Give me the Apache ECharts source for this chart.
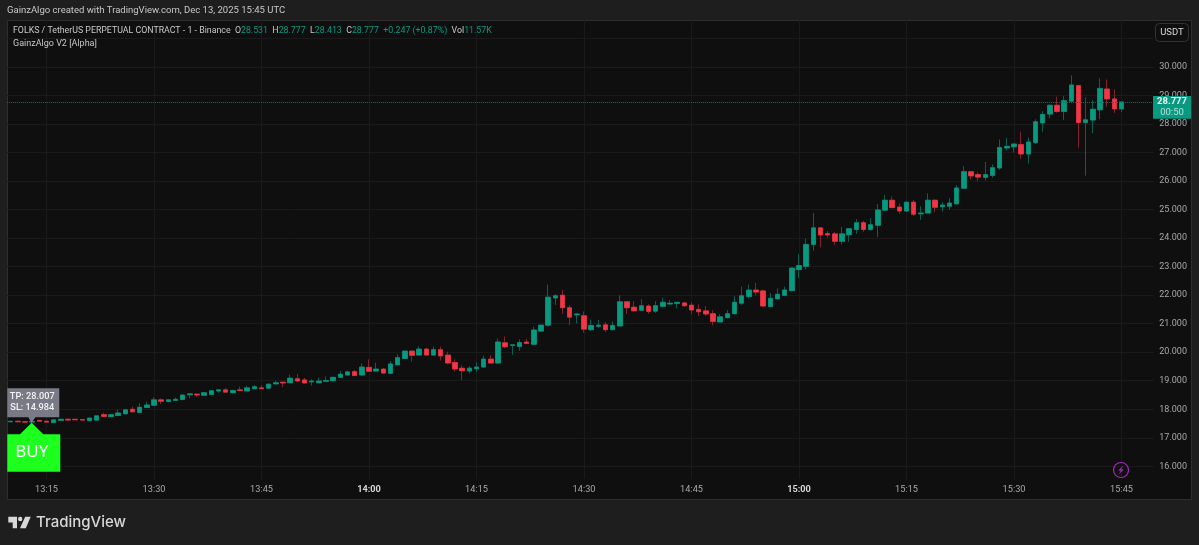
<!DOCTYPE html>
<html>
<head>
<meta charset="utf-8">
<title>FOLKS / TetherUS</title>
<style>
	html, body { margin: 0; padding: 0; background: #1e1e1e; }
	#chart { width: 1199px; height: 545px; }
</style>
<script src="https://cdn.jsdelivr.net/npm/echarts@6/dist/echarts.min.js"></script>
</head>
<body>
<div id="chart"></div>
<script>
// one minute candles, 13:10 to 15:45, the last few categories stay empty
var categories = [
	'13:10','13:11','13:12','13:13','13:14','13:15','13:16','13:17','13:18','13:19','13:20','13:21','13:22','13:23','13:24','13:25','13:26','13:27','13:28','13:29',
	'13:30','13:31','13:32','13:33','13:34','13:35','13:36','13:37','13:38','13:39','13:40','13:41','13:42','13:43','13:44','13:45','13:46','13:47','13:48','13:49',
	'13:50','13:51','13:52','13:53','13:54','13:55','13:56','13:57','13:58','13:59','14:00','14:01','14:02','14:03','14:04','14:05','14:06','14:07','14:08','14:09',
	'14:10','14:11','14:12','14:13','14:14','14:15','14:16','14:17','14:18','14:19','14:20','14:21','14:22','14:23','14:24','14:25','14:26','14:27','14:28','14:29',
	'14:30','14:31','14:32','14:33','14:34','14:35','14:36','14:37','14:38','14:39','14:40','14:41','14:42','14:43','14:44','14:45','14:46','14:47','14:48','14:49',
	'14:50','14:51','14:52','14:53','14:54','14:55','14:56','14:57','14:58','14:59','15:00','15:01','15:02','15:03','15:04','15:05','15:06','15:07','15:08','15:09',
	'15:10','15:11','15:12','15:13','15:14','15:15','15:16','15:17','15:18','15:19','15:20','15:21','15:22','15:23','15:24','15:25','15:26','15:27','15:28','15:29',
	'15:30','15:31','15:32','15:33','15:34','15:35','15:36','15:37','15:38','15:39','15:40','15:41','15:42','15:43','15:44','15:45','15:46','15:47','15:48','15:49'
];
var opens = [
	17.56,17.58,17.56,17.55,17.61,17.58,17.53,17.61,17.65,17.65,17.64,17.6,17.62,17.81,17.74,17.78,17.84,18.0,17.89,18.06,
	18.14,18.33,18.27,18.31,18.34,18.51,18.53,18.49,18.52,18.64,18.68,18.58,18.68,18.64,18.72,18.75,18.74,18.89,18.95,18.93,
	19.07,19.03,18.96,18.93,18.98,19.0,19.12,19.2,19.32,19.2,19.47,19.34,19.41,19.26,19.56,19.78,20.04,19.9,20.11,19.9,
	20.09,19.9,19.64,19.44,19.34,19.42,19.48,19.76,19.62,20.33,20.24,20.2,20.36,20.28,20.74,20.95,21.9,22.0,21.56,21.31,
	21.28,20.79,20.91,20.96,20.79,20.92,21.77,21.58,21.47,21.62,21.44,21.61,21.69,21.71,21.73,21.65,21.5,21.45,21.35,21.06,
	21.21,21.35,21.72,21.95,22.18,22.15,21.6,21.87,21.99,22.16,22.9,23.01,23.78,24.36,24.16,24.15,23.89,24.12,24.3,24.54,
	24.3,24.45,24.98,25.33,25.09,24.95,25.26,24.85,24.88,25.33,25.1,25.12,25.2,25.75,26.33,26.23,26.13,26.2,26.46,27.16,
	27.2,27.28,26.95,27.35,28.04,28.35,28.66,28.44,28.8,29.35,28.05,28.14,28.5,29.23,28.88,28.531
];
var closes = [
	17.58,17.56,17.55,17.57,17.58,17.55,17.63,17.65,17.62,17.63,17.62,17.69,17.77,17.75,17.81,17.87,17.98,17.91,18.07,18.15,
	18.33,18.28,18.33,18.35,18.5,18.54,18.5,18.58,18.65,18.68,18.6,18.66,18.66,18.75,18.79,18.72,18.88,18.93,18.92,19.09,
	18.99,18.92,18.99,18.99,19.01,19.12,19.23,19.31,19.18,19.48,19.33,19.41,19.27,19.59,19.81,20.04,19.89,20.11,19.9,20.09,
	19.87,19.62,19.41,19.35,19.44,19.48,19.76,19.62,20.36,20.19,20.26,20.34,20.31,20.78,20.95,21.93,21.98,21.56,21.23,21.34,
	20.81,20.94,20.95,20.79,20.94,21.77,21.56,21.45,21.63,21.43,21.63,21.75,21.72,21.75,21.63,21.48,21.42,21.34,21.08,21.24,
	21.35,21.75,21.98,22.18,22.11,21.62,21.89,22.03,22.18,22.95,23.04,23.78,24.36,24.11,24.11,23.89,24.15,24.33,24.54,24.3,
	24.47,24.99,25.33,25.07,24.95,25.26,24.84,24.88,25.33,25.08,25.16,25.23,25.76,26.33,26.18,26.14,26.23,26.47,27.18,27.22,
	27.3,26.95,27.37,28.08,28.34,28.66,28.44,28.82,29.37,28.05,28.15,28.52,29.25,28.88,28.53,28.777
];
var lows = [
	17.55,17.55,17.53,17.53,17.57,17.54,17.52,17.6,17.61,17.62,17.61,17.59,17.62,17.74,17.73,17.77,17.83,17.9,17.88,18.05,
	18.13,18.18,18.26,18.3,18.33,18.38,18.44,18.48,18.51,18.58,18.59,18.56,18.65,18.63,18.71,18.71,18.71,18.88,18.77,18.92,
	18.97,18.91,18.83,18.92,18.97,18.99,19.11,19.19,19.17,19.18,19.32,19.33,19.26,19.25,19.55,19.78,19.67,19.89,19.88,19.89,
	19.71,19.58,19.33,19.02,19.26,19.3,19.47,19.61,19.61,20.14,19.91,20.05,20.3,20.27,20.71,20.89,21.66,21.35,20.95,21.01,
	20.68,20.75,20.86,20.71,20.77,20.9,21.34,21.43,21.45,21.35,21.38,21.56,21.68,21.54,21.59,21.33,21.27,21.28,20.94,21.05,
	21.19,21.33,21.66,21.88,21.99,21.6,21.58,21.85,21.97,22.14,22.6,22.9,23.56,23.68,24.01,23.76,23.78,23.87,24.15,24.22,
	24.26,24.04,24.95,25.05,24.85,24.93,24.78,24.64,24.87,24.91,24.93,24.99,25.18,25.72,26.06,26.0,26.02,26.12,26.39,27.07,
	27.0,26.78,26.61,27.3,27.73,28.2,28.4,28.14,28.73,27.17,26.19,27.68,28.17,28.61,28.39,28.413
];
var highs = [
	17.59,17.59,17.58,17.6,17.63,17.6,17.64,17.66,17.67,17.66,17.66,17.71,17.77,17.88,17.82,17.98,18.0,18.09,18.21,18.27,
	18.42,18.38,18.36,18.41,18.51,18.54,18.55,18.6,18.66,18.68,18.74,18.68,18.79,18.82,18.85,18.85,18.9,19.0,18.95,19.21,
	19.24,19.1,19.05,19.11,19.15,19.13,19.34,19.35,19.38,19.61,19.75,19.63,19.44,19.69,19.93,20.05,20.06,20.21,20.15,20.2,
	20.19,20.02,19.75,19.54,19.51,19.65,19.88,19.9,20.48,20.55,20.28,20.45,20.47,20.89,20.97,22.37,22.04,22.18,21.65,21.38,
	21.43,21.15,21.13,21.06,21.08,22.0,21.79,21.79,21.86,21.68,21.79,21.91,21.83,21.76,21.76,21.75,21.68,21.62,21.47,21.33,
	21.48,21.98,22.3,22.37,22.43,22.2,22.07,22.24,22.3,22.97,23.44,23.98,24.88,24.38,24.25,24.22,24.4,24.35,24.67,24.61,
	24.71,25.2,25.51,25.46,25.21,25.28,25.34,25.12,25.57,25.36,25.27,25.4,25.86,26.53,26.35,26.3,26.67,26.59,27.46,27.51,
	27.31,27.73,27.53,28.17,28.45,28.68,28.96,28.98,29.71,29.37,28.94,28.84,29.6,29.56,29.22,28.777
];
var priceTicks = [16, 17, 18, 19, 20, 21, 22, 23, 24, 25, 26, 27, 28, 29, 30, 31];
var priceLabels = [16, 17, 18, 19, 20, 21, 22, 23, 24, 25, 26, 27, 28, 29, 30];
var lastPrice = 28.777;
var buyTime = '13:13';
var buyPrice = 17.53;

var upColor = '#089981', downColor = '#f23645';
var upWick = '#0a5f50', downWick = '#85212c';
var textColor = '#a8a8a8';
var legendColor = '#c8c8c8';
var font = 'Roboto, "Noto Sans", sans-serif';

var wickData = [], bodyData = [];
for (var i = 0; i < opens.length; i++) {
	wickData.push([opens[i], closes[i], lows[i], highs[i]]);
	// drawn on top so the bodies keep the bright colour and only the wicks look dim
	bodyData.push([opens[i], closes[i], Math.min(opens[i], closes[i]), Math.max(opens[i], closes[i])]);
}

function isQuarter(index, value) {
	return value.slice(3) % 15 == 0;
}

var chart = echarts.init(document.getElementById('chart'), null, {renderer: 'canvas'});

var option = {
	animation: false,
	backgroundColor: '#1e1e1e',
	textStyle: {fontFamily: font},
	grid: {left: 7.1, right: 45.2, top: 20, bottom: 66, containLabel: false},
	xAxis: {
		type: 'category',
		data: categories,
		boundaryGap: true,
		axisLine: {show: false},
		axisTick: {show: false, alignWithLabel: true, interval: isQuarter},
		splitLine: {show: true, alignWithLabel: true, interval: isQuarter, lineStyle: {color: '#1a1a1a', width: 1}},
		axisLabel: {
			interval: isQuarter,
			margin: 6,
			color: textColor,
			fontSize: 9.2,
			fontFamily: font,
			formatter: function(value) {
				return value.slice(3) == '00' ? '{hour|' + value + '}' : value;
			},
			rich: {hour: {color: '#d8d8d8', fontWeight: 'bold', fontSize: 9.2, fontFamily: font}}
		}
	},
	yAxis: {
		type: 'value',
		position: 'right',
		min: 15.555,
		max: 31.648,
		axisLine: {show: false},
		axisTick: {show: false, customValues: priceTicks},
		splitLine: {show: true, lineStyle: {color: '#1a1a1a', width: 1}},
		axisLabel: {
			customValues: priceLabels,
			margin: 5.5,
			color: textColor,
			fontSize: 9,
			fontFamily: font,
			formatter: function(value) {
				return value.toFixed(3);
			}
		}
	},
	series: [{
		name: 'wicks',
		type: 'candlestick',
		barWidth: 5,
		data: wickData,
		itemStyle: {color: upColor, color0: downColor, borderColor: upWick, borderColor0: downWick, borderWidth: 1}
	}, {
		name: 'bodies',
		type: 'candlestick',
		barWidth: 5,
		data: bodyData,
		itemStyle: {color: upColor, color0: downColor, borderColor: upColor, borderColor0: downColor, borderWidth: 0.5},
		markLine: {
			silent: true,
			symbol: 'none',
			label: {show: false},
			lineStyle: {color: '#0a7362', type: 'dotted', width: 1, opacity: 1},
			data: [{yAxis: lastPrice}]
		},
		markPoint: {
			silent: true,
			data: [{
				coord: [buyTime, buyPrice],
				symbol: 'path://M24.4 0L12.7 11.6L0 11.6L0 49L53 49L53 11.6L36 11.6Z',
				symbolSize: [53, 49],
				symbolOffset: [1.6, 24.5],
				itemStyle: {color: '#1dff1d'},
				label: {show: true, position: 'inside', formatter: 'BUY', offset: [-2, 5], color: '#fff', fontSize: 17, fontFamily: '"Noto Sans", sans-serif'}
			}, {
				coord: [buyTime, buyPrice],
				symbol: 'path://M0 0L52 0L52 29L28 29L24.4 34.7L21 29L0 29Z',
				symbolSize: [52, 34.7],
				symbolOffset: [1.1, -17.1],
				itemStyle: {color: '#787b86'},
				label: {show: true, position: 'inside', formatter: 'TP: 28.007\nSL: 14.984', offset: [-1, -3], align: 'center', lineHeight: 11, color: '#f4f4f4', fontSize: 9.2, fontWeight: 500, fontFamily: font}
			}]
		}
	}],
	graphic: [
		// panel behind the plot and the axes
		{type: 'rect', z: -10, shape: {x: 7.5, y: 20.5, width: 1184, height: 479}, style: {fill: '#0f0f0f', stroke: '#2e2e2e', lineWidth: 1}},
		{type: 'text', z: 100, x: 7, y: 11, style: {text: 'GainzAlgo created with TradingView.com, Dec 13, 2025 15:45 UTC', fill: legendColor, font: '9.5px ' + font, verticalAlign: 'middle'}},
		{
			type: 'text', z: 100, x: 13, y: 31,
			style: {
				text: '{l|FOLKS / TetherUS PERPETUAL CONTRACT - 1 - Binance}  {l|O}28.531  {l|H}28.777  {l|L}28.413  {l|C}28.777  +0.247 (+0.87%)  {l|Vol}11.57K',
				fill: upColor,
				font: '8.8px ' + font,
				verticalAlign: 'middle',
				rich: {l: {fill: legendColor, font: '8.8px ' + font}}
			}
		},
		{type: 'text', z: 100, x: 13, y: 44, style: {text: 'GainzAlgo V2 [Alpha]', fill: legendColor, font: '9px ' + font, verticalAlign: 'middle'}},
		// USDT button
		{type: 'rect', z: 100, shape: {x: 1155.5, y: 23.5, width: 33, height: 18, r: 4}, style: {fill: '#0f0f0f', stroke: '#333', lineWidth: 1}},
		{type: 'text', z: 101, x: 1172, y: 32.5, style: {text: 'USDT', fill: '#d8d8d8', font: '9.5px ' + font, align: 'center', verticalAlign: 'middle'}},
		// last price tag
		{type: 'rect', z: 100, shape: {x: 1153, y: 96, width: 38, height: 22.7}, style: {fill: upColor}},
		{type: 'text', z: 101, x: 1172, y: 102, style: {text: '28.777', fill: '#e8f5f2', font: 'bold 9.5px ' + font, align: 'center', verticalAlign: 'middle'}},
		{type: 'text', z: 101, x: 1172, y: 113, style: {text: '00:50', fill: '#b5e0d6', font: '9.5px ' + font, align: 'center', verticalAlign: 'middle'}},
		// lightning icon
		{type: 'circle', z: 100, shape: {cx: 1121, cy: 470, r: 7.5}, style: {fill: 'none', stroke: '#a02ab5', lineWidth: 1.2}},
		{type: 'polygon', z: 100, shape: {points: [[1123.5, 465.5], [1118, 470.5], [1120.8, 470.5], [1118.5, 474.5], [1124, 469.5], [1121.2, 469.5]]}, style: {fill: '#a02ab5'}},
		// TradingView logo
		{type: 'polygon', shape: {points: [[8.3, 516.7], [17, 516.7], [17, 528.3], [12.7, 528.3], [12.7, 522.5], [8.3, 522.5]]}, style: {fill: '#d8d8d8'}},
		{type: 'circle', shape: {cx: 20.2, cy: 519, r: 2.2}, style: {fill: '#d8d8d8'}},
		{type: 'polygon', shape: {points: [[25.2, 516.7], [30.7, 516.7], [25.8, 528.3], [20, 528.3]]}, style: {fill: '#d8d8d8'}},
		{type: 'text', x: 36, y: 522, style: {text: 'TradingView', fill: '#d8d8d8', font: '500 15px Inter, ' + font, verticalAlign: 'middle'}}
	]
};

chart.setOption(option);
</script>
</body>
</html>
